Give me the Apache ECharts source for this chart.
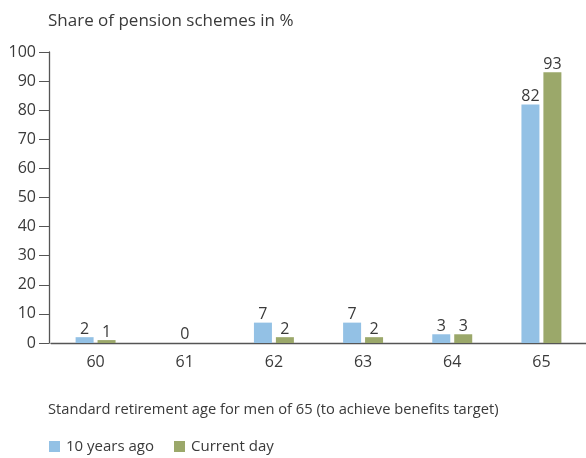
<!DOCTYPE html>
<html>
<head>
<meta charset="utf-8">
<script src="https://cdn.jsdelivr.net/npm/echarts@6/dist/echarts.min.js"></script>
<style>
  html, body { margin: 0; padding: 0; background: #fff; }
  #chart { width: 586px; height: 458px; }
</style>
</head>
<body>
<div id="chart"></div>
<script>
// Retirement ages (categories) and share of schemes per age
const ages = ['60', '61', '62', '63', '64', '65'];
const tenYearsAgo = [2, null, 7, 7, 3, 82];
const currentDay = [1, null, 2, 2, 3, 93];
// Age with no schemes at all, labelled once at the category centre
const noSchemes = [null, 0, null, null, null, null];
const yTicks = [0, 10, 20, 30, 40, 50, 60, 70, 80, 90, 100];

const FONT = '"Open Sans", "Noto Sans", sans-serif';
const TEXT = '#3a3a3a';
const AXIS = '#555555';

const chart = echarts.init(document.getElementById('chart'), null, { renderer: 'canvas' });

const valueLabel = {
  show: true,
  position: 'top',
  distance: 0,
  color: TEXT,
  opacity: 1,
  fontFamily: FONT,
  fontSize: 16
};

chart.setOption({
  animation: false,
  textStyle: { fontFamily: FONT },
  title: [
    {
      text: 'Share of pension schemes in %',
      left: 43, top: 8,
      textStyle: { fontFamily: FONT, fontSize: 17, fontWeight: 'normal', color: TEXT }
    },
    {
      text: 'Standard retirement age for men of 65 (to achieve benefits target)',
      left: 43, top: 397,
      textStyle: { fontFamily: FONT, fontSize: 14.7, fontWeight: 'normal', color: TEXT }
    }
  ],
  legend: {
    data: ['10 years ago', 'Current day'],
    left: 44, top: 434,
    itemWidth: 11, itemHeight: 11, itemGap: 20,
    icon: 'rect',
    textStyle: { fontFamily: FONT, fontSize: 15, color: TEXT, padding: [0, 0, 0, 1] }
  },
  grid: { left: 51, right: -4.5, top: 52, bottom: 115 },
  xAxis: {
    type: 'category',
    data: ages,
    axisLine: { lineStyle: { color: AXIS, width: 1.3 } },
    axisTick: { inside: true, length: 6, lineStyle: { color: AXIS } },
    axisLabel: { color: TEXT, fontFamily: FONT, fontSize: 16, margin: 11 }
  },
  yAxis: {
    type: 'value',
    min: 0, max: 100, interval: 10,
    offset: 2,
    axisLine: { show: true, lineStyle: { color: AXIS, width: 1.3 } },
    axisTick: { show: true, length: 10, lineStyle: { color: AXIS } },
    splitLine: { show: false },
    axisLabel: {
      color: TEXT, fontFamily: FONT, fontSize: 16, margin: 13,
      formatter: v => (yTicks.includes(v) ? String(v) : '')
    }
  },
  series: [
    {
      name: '10 years ago',
      type: 'bar',
      data: tenYearsAgo,
      barWidth: 18,
      barGap: '22%',
      itemStyle: { color: '#93c1e5' },
      label: valueLabel
    },
    {
      name: 'Current day',
      type: 'bar',
      data: currentDay,
      barWidth: 18,
      barGap: '22%',
      itemStyle: { color: '#9ba86a' },
      label: valueLabel
    },
    {
      name: 'none',
      type: 'scatter',
      data: noSchemes,
      symbolSize: 0,
      z: 10,
      itemStyle: { color: TEXT, opacity: 1 },
      label: Object.assign({}, valueLabel, { distance: 1 })
    }
  ]
});
</script>
</body>
</html>
